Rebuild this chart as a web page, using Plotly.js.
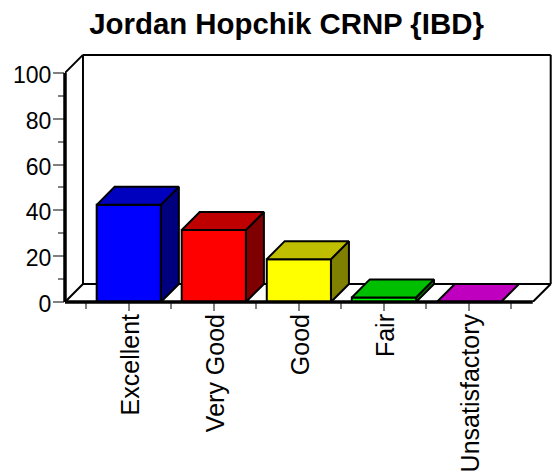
<!DOCTYPE html>
<html>
<head>
<meta charset="utf-8">
<script src="https://cdn.plot.ly/plotly-3.0.1.min.js"></script>
<style>html,body{margin:0;padding:0;background:#fff}</style>
</head>
<body>
<div id="chart" style="width:558px;height:475px"></div>
<script>
var categories = ["Excellent", "Very Good", "Good", "Fair", "Unsatisfactory"];
var values = [42.4, 31.4, 18.7, 2.0, 0];
var frontColors = ["#0000ff", "#ff0000", "#ffff00", "#00ff00", "#ff00ff"];
var topColors = ["#0000bf", "#bf0000", "#bfbf00", "#00bf00", "#bf00bf"];
var sideColors = ["#00007f", "#7f0000", "#7f7f00", "#007f00", "#7f007f"];
var yTicks = [0, 20, 40, 60, 80, 100];
var yMinorTicks = [10, 30, 50, 70, 90];

var pxPerCat = 85.2, pxPerUnit = 2.29, depthPx = 18;
var dx = depthPx / pxPerCat, dy = depthPx / pxPerUnit;
var barW = 0.755, xMin = -0.75, xMax = 4.75, yMax = 100;
var idx = categories.map(function (c, i) { return i; });

var traces = [{
  type: "bar", x: idx, y: values, width: barW,
  marker: { color: frontColors, line: { color: "#000", width: 2 } },
  hoverinfo: "x+y"
}];

function face(xs, ys, color) {
  return { type: "scatter", mode: "lines", x: xs, y: ys, fill: "toself", fillcolor: color,
    line: { color: "#000", width: 2 }, hoverinfo: "skip" };
}
values.forEach(function (v, i) {
  var l = i - barW / 2, r = i + barW / 2;
  if (v > 0) traces.push(face([r, r + dx, r + dx, r, r], [0, dy, v + dy, v, 0], sideColors[i]));
  traces.push(face([l, l + dx, r + dx, r, l], [v, v + dy, v + dy, v, v], topColors[i]));
});

var wallLine = { color: "#000", width: 2 };
function seg(x0, y0, x1, y1) {
  return { type: "line", layer: "below", xref: "x", yref: "y", x0: x0, y0: y0, x1: x1, y1: y1, line: wallLine };
}
var shapes = [
  seg(xMin, yMax, xMin + dx, yMax + dy),
  seg(xMin + dx, yMax + dy, xMax + dx, yMax + dy),
  seg(xMax + dx, yMax + dy, xMax + dx, dy),
  seg(xMin + dx, yMax + dy, xMin + dx, dy),
  seg(xMin + dx, dy, xMax + dx, dy),
  seg(xMin, 0, xMin + dx, dy),
  seg(xMax, 0, xMax + dx, dy),
  { type: "line", layer: "above", xref: "paper", yref: "y", x0: 0, x1: 0, y0: 0, y1: yMax, line: { color: "#000", width: 3.5 } },
  { type: "line", layer: "above", xref: "x", yref: "paper", x0: xMin, x1: xMax, y0: 0, y1: 0, line: { color: "#000", width: 3.5 } }
];

var font = "Liberation Sans, Arial, sans-serif";
var layout = {
  width: 558, height: 475, showlegend: false, dragmode: false,
  paper_bgcolor: "#fff", plot_bgcolor: "#fff",
  margin: { l: 64.5, r: 3.6, t: 50.4, b: 172.7, pad: 0 },
  title: { text: "<b>Jordan Hopchik CRNP {IBD}</b>", x: 0.5135, xanchor: "center", y: 0.951, yanchor: "middle",
    font: { family: font, size: 29.4, color: "#000" } },
  xaxis: {
    range: [xMin, 5], type: "linear", showgrid: false, zeroline: false, showline: false,
    tickmode: "array", tickvals: idx, ticktext: categories, tickangle: -90,
    ticks: "outside", ticklen: 8, tickwidth: 2, tickcolor: "#808080",
    ticklabelstandoff: -7, ticklabelshift: 2,
    tickfont: { family: font, size: 25, color: "#000" },
    minor: { tickmode: "array", tickvals: [-0.5, 0.5, 1.5, 2.5, 3.5, 4.5], ticks: "outside", ticklen: 6, tickwidth: 2, tickcolor: "#808080", showgrid: false }
  },
  yaxis: {
    range: [0, 110], showgrid: false, zeroline: false, showline: false,
    tickmode: "array", tickvals: yTicks,
    ticks: "outside", ticklen: 11, tickwidth: 2, tickcolor: "#808080",
    ticklabelstandoff: -3, ticklabelshift: 2,
    tickfont: { family: font, size: 23, color: "#000" },
    minor: { tickmode: "array", tickvals: yMinorTicks, ticks: "outside", ticklen: 6.5, tickwidth: 2, tickcolor: "#808080", showgrid: false }
  },
  shapes: shapes
};
Plotly.newPlot("chart", traces, layout, { displayModeBar: false, staticPlot: true });
</script>
</body>
</html>
